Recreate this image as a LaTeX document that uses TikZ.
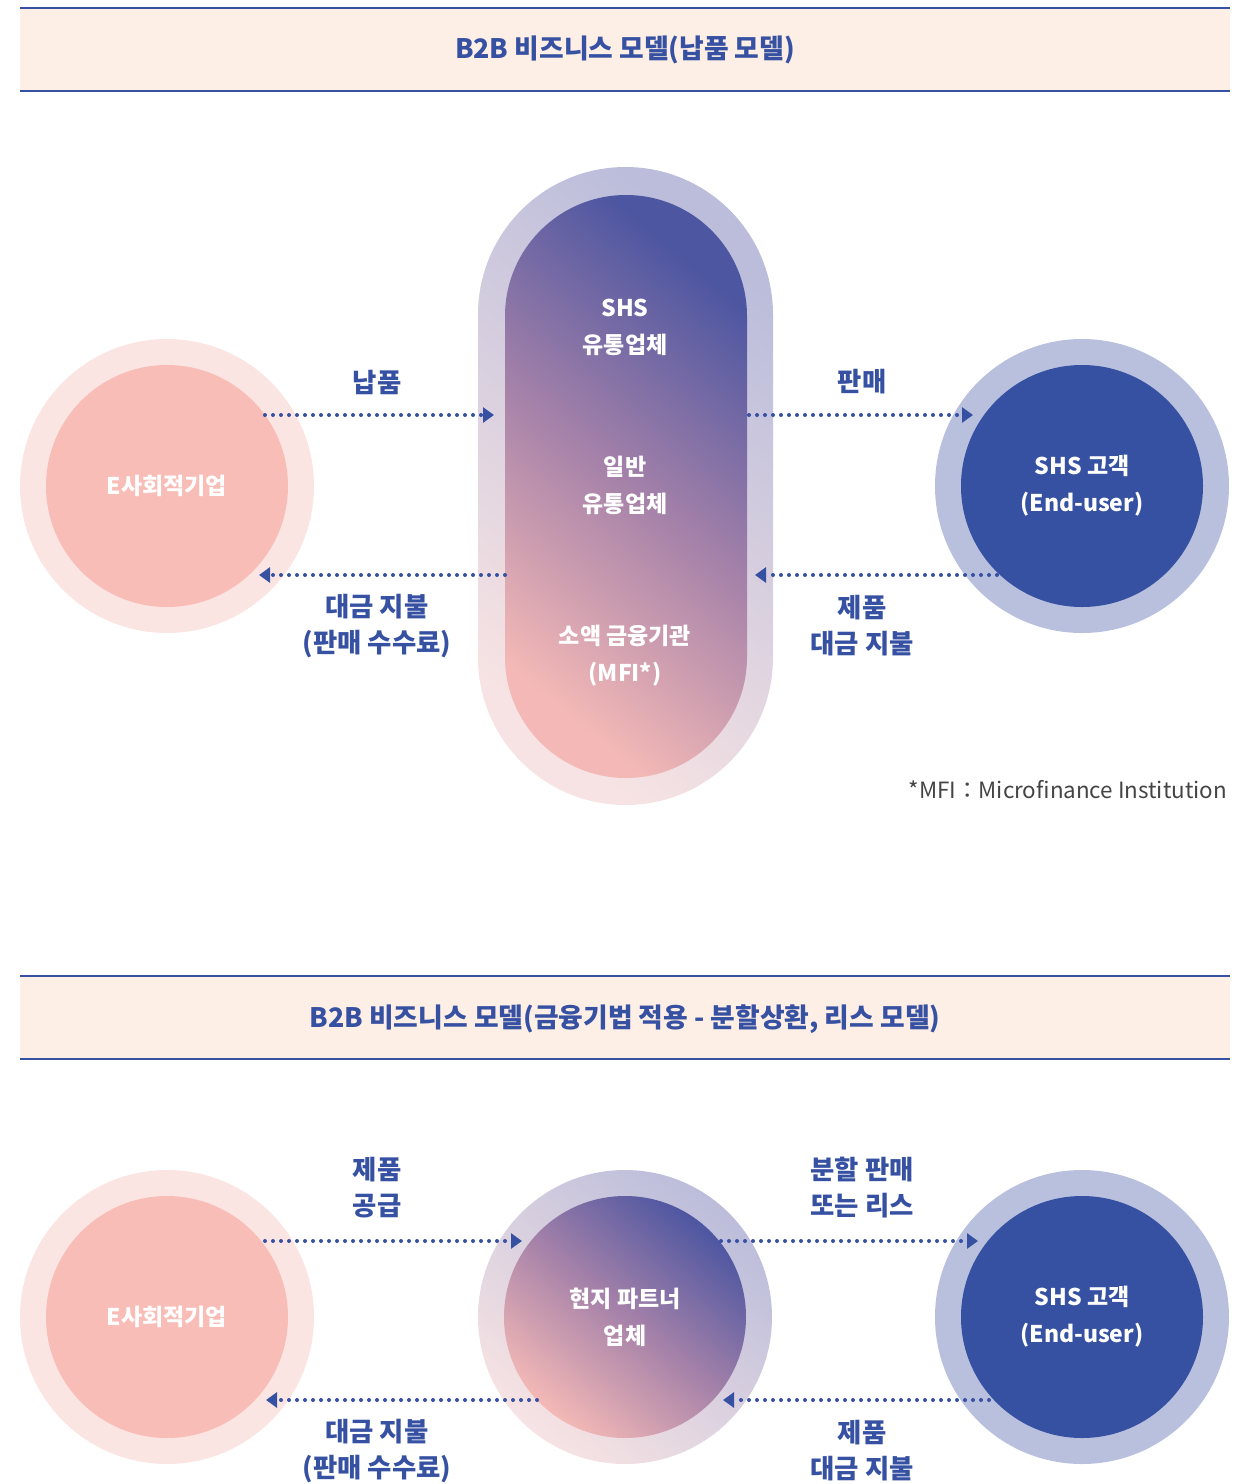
\documentclass[tikz,border=0pt]{standalone}
\usepackage{fontspec}
\setmainfont{Noto Sans CJK KR}
\usetikzlibrary{arrows.meta}
\definecolor{navy}{HTML}{3650A2}
\definecolor{bandfill}{HTML}{FDEEE6}
\definecolor{pinkring}{HTML}{FBE5E3}
\definecolor{pinkcore}{HTML}{F8BDB7}
\definecolor{bluering}{HTML}{B9C0DE}
\definecolor{bluecore}{HTML}{3650A2}
\definecolor{gdark}{HTML}{4D56A1}
\definecolor{gmid}{HTML}{A682A9}
\definecolor{glight}{HTML}{F4B9B6}
\definecolor{rdark}{HTML}{BBBDDB}
\definecolor{rlight}{HTML}{F7E3E3}
\definecolor{notegray}{HTML}{444444}
\tikzset{
  band/.style={fill=bandfill},
  bandline/.style={draw=navy, line width=0.6pt},
  title/.style={text=navy, font=\bfseries\fontsize{13.4}{18}\selectfont},
  flow/.style={navy, line width=2pt, line cap=round, dash pattern=on 0pt off 4pt,
    -{Triangle[length=5.5pt,width=7.5pt]}},
  lbl/.style={text=navy, font=\bfseries\fontsize{13.2}{18}\selectfont, align=center},
  inlbl/.style={text=white, font=\bfseries\fontsize{11.5}{18.5}\selectfont, align=center},
  ring/.style={circle, minimum size=147pt, inner sep=0pt},
  core/.style={circle, minimum size=121pt, inner sep=0pt},
  gradring/.style={top color=rdark, bottom color=rlight, shading angle=-40},
  gradcore/.style={top color=gdark, bottom color=glight, middle color=gmid, shading angle=-40},
}
\begin{document}
\begin{tikzpicture}[x=0.5pt,y=-0.5pt]
\useasboundingbox (0,0) rectangle (1252,1484);

% ---- B2B model 1
\fill[band] (20,8) rectangle (1230,91);
\draw[bandline] (20,8) -- (1230,8);
\draw[bandline] (20,91) -- (1230,91);
\node[title] (t1) at (625,50) {B2B 비즈니스 모델(납품 모델)};

\node[ring, fill=pinkring] (entA) at (167,486) {};
\node[core, fill=pinkcore, inlbl] (ent) at (167,486) {E사회적기업};

\shade[gradring, rounded corners=73.75pt] (478,167) rectangle (773,805);
\shade[gradcore, rounded corners=60.5pt] (505,195) rectangle (747,778);
\node[inlbl] (dist) at (625,327) {SHS\\유통업체};
\node[inlbl] (gen) at (625,485) {일반\\유통업체};
\node[inlbl] (mfi) at (625,656) {소액 금융기관\\(MFI*)};

\node[ring, fill=bluering] (custA) at (1082,486) {};
\node[core, fill=bluecore, inlbl] (cust) at (1082,486) {SHS 고객\\(End-user)};

\coordinate (a1) at (265,415);
\coordinate (a2) at (494,415);
\coordinate (b1) at (749,415);
\coordinate (b2) at (973,415);
\coordinate (c1) at (505,575);
\coordinate (c2) at (259,575);
\coordinate (d1) at (997,575);
\coordinate (d2) at (755,575);
\draw[flow] (a1) -- (a2);
\draw[flow] (b1) -- (b2);
\draw[flow] (c1) -- (c2);
\draw[flow] (d1) -- (d2);

\node[lbl] (supply) at (377,382) {납품};
\node[lbl] (sell) at (862,382) {판매};
\node[lbl] (fee) at (377,626) {대금 지불\\(판매 수수료)};
\node[lbl] (pay) at (862,626) {제품\\대금 지불};

\node[anchor=east, text=notegray, font=\fontsize{11.2}{12}\selectfont] (note) at (1234,790)
  {*MFI：Microfinance Institution};

% ---- B2B model 2
\fill[band] (20,976) rectangle (1230,1059);
\draw[bandline] (20,976) -- (1230,976);
\draw[bandline] (20,1059) -- (1230,1059);
\node[title] (t2) at (625,1019) {B2B 비즈니스 모델(금융기법 적용 - 분할상환, 리스 모델)};

\node[ring, fill=pinkring] (ent2A) at (167,1317) {};
\node[core, fill=pinkcore, inlbl] (ent2) at (167,1317) {E사회적기업};

\node[ring, gradring] (partA) at (625,1317) {};
\node[core, gradcore, inlbl] (part) at (625,1317) {현지 파트너\\업체};

\node[ring, fill=bluering] (cust2A) at (1082,1317) {};
\node[core, fill=bluecore, inlbl] (cust2) at (1082,1317) {SHS 고객\\(End-user)};

\coordinate (e1) at (265,1241);
\coordinate (e2) at (522,1241);
\coordinate (f1) at (721,1241);
\coordinate (f2) at (978,1241);
\coordinate (g1) at (537,1400);
\coordinate (g2) at (266,1400);
\coordinate (h1) at (997,1400);
\coordinate (h2) at (723,1400);
\draw[flow] (e1) -- (e2);
\draw[flow] (f1) -- (f2);
\draw[flow] (g1) -- (g2);
\draw[flow] (h1) -- (h2);

\node[lbl] (give) at (377,1188) {제품\\공급};
\node[lbl] (lease) at (862,1188) {분할 판매\\또는 리스};
\node[lbl] (fee2) at (377,1451) {대금 지불\\(판매 수수료)};
\node[lbl] (pay2) at (862,1451) {제품\\대금 지불};
\end{tikzpicture}
\end{document}
